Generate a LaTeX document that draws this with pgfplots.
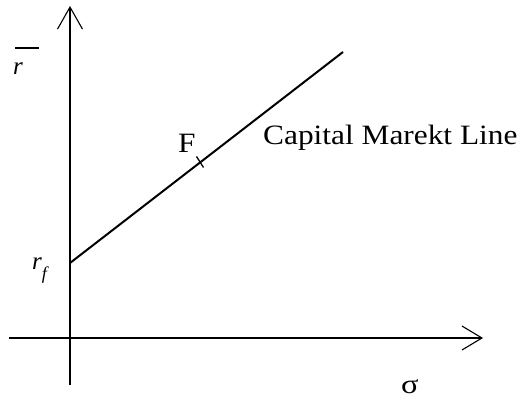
\documentclass[border=0pt]{standalone}
\usepackage{fontspec}
\setmainfont{Liberation Serif}
\usepackage{pgfplots}
\pgfplotsset{compat=1.18}
\usetikzlibrary{arrows.meta}
\begin{document}
\begin{tikzpicture}
\begin{axis}[
  width=523pt, height=402pt, scale only axis,
  xmin=0, xmax=523, ymin=0, ymax=402,
  hide axis, clip=false,
]
\path (rel axis cs:0,0) rectangle (rel axis cs:1,1);
% axes
\addplot[black, line width=1.8pt, -{Straight Barb[length=22pt,width=25pt,line width=1.1pt]}] coordinates {(70,17) (70,396)};
\addplot[black, line width=1.8pt, -{Straight Barb[length=20pt,width=24pt,line width=1.1pt]}] coordinates {(9,64) (483,64)};
% capital market line
\addplot[black, line width=2pt] coordinates {(70,139) (343,350)};
% F tick
\addplot[black, line width=1.3pt] coordinates {(203.5,234.5) (196.5,245.5)};
% labels
\node[anchor=base west, inner sep=0pt] at (axis cs:263,257)
  {\scalebox{1.12}[1]{\fontsize{28}{32}\selectfont Capital Marekt Line}};
\node[anchor=base west, inner sep=0pt] at (axis cs:178,249)
  {\scalebox{1.12}[1]{\fontsize{28}{32}\selectfont F}};
\node[anchor=base west, inner sep=0pt] at (axis cs:32,132)
  {\fontsize{25}{28}\selectfont\itshape r\raisebox{-10pt}{\fontsize{18}{20}\selectfont\itshape f}};
\node[anchor=base west, inner sep=0pt] at (axis cs:13,327)
  {\fontsize{25}{28}\selectfont\hspace*{2pt}\rlap{\rule[26pt]{24pt}{1.8pt}}\hspace*{-2pt}\itshape r};
\node[anchor=base west, inner sep=0pt] at (axis cs:401,8)
  {\scalebox{1.2}[1]{\fontsize{27}{30}\selectfont σ}};
\end{axis}
\end{tikzpicture}
\end{document}
